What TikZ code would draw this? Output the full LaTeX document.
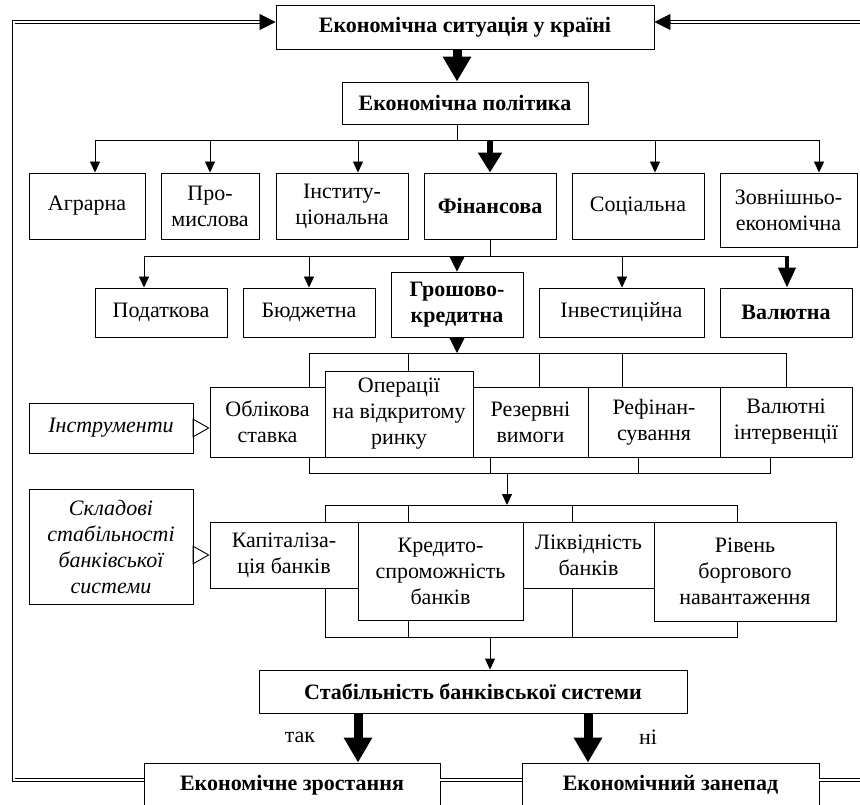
\documentclass[tikz,border=0pt]{standalone}
\usepackage{fontspec}
\setmainfont{Liberation Serif}
\usetikzlibrary{positioning}
\usetikzlibrary{arrows.meta}

\begin{document}
\begin{tikzpicture}[x=1pt,y=-1pt,
  box/.style={draw,line width=0.9pt,fill=white,align=center,inner sep=1pt,font=\fontsize{22}{26}\selectfont},
  bbox/.style={box,font=\fontsize{22}{26}\selectfont\bfseries},
  ibox/.style={box,font=\fontsize{22}{26}\selectfont\itshape},
  ln/.style={line width=0.9pt},
  arr/.style={line width=0.9pt,-{Triangle[width=10pt,length=11pt]}},
  midarr/.style={line width=0.9pt,-{Triangle[width=15pt,length=15pt]}},
  bigarr/.style={line width=9pt,-{Triangle[width=27pt,length=25pt]}},
  dbl/.style={double,double distance=2pt,line width=0.8pt},
  dbltip/.style={line width=0.8pt,-{Triangle[width=16pt,length=16pt]}},
  hol/.style={line width=0.9pt,-{Triangle[open,width=19pt,length=17pt]}}]
 \useasboundingbox (0,0) rectangle (860,805);
 \clip (0,0) rectangle (860,805);

 \node[bbox,minimum width=378pt,minimum height=44pt] (top) at (465,27) {Економічна ситуація у країні};
 \node[bbox,minimum width=246pt,minimum height=42pt] (pol) at (465,103) {Економічна політика};

 \node[box,minimum width=116pt,minimum height=66pt] (agr) at (87,206) {Аграрна};
 \node[box,minimum width=98pt,minimum height=66pt] (prom) at (210,206) {Про-\\мислова};
 \node[box,minimum width=132pt,minimum height=66pt] (inst) at (342,206) {Інститу-\\ціональна};
 \node[bbox,minimum width=132pt,minimum height=66pt] (fin) at (490,206) {Фінансова};
 \node[box,minimum width=132pt,minimum height=66pt] (soc) at (638,206) {Соціальна};
 \node[box,minimum width=137pt,minimum height=74pt] (zovn) at (788.5,210) {Зовнішньо-\\економічна};

 \node[box,minimum width=132pt,minimum height=49pt] (pod) at (161,312.5) {Податкова};
 \node[box,minimum width=132pt,minimum height=49pt] (bud) at (309,312.5) {Бюджетна};
 \node[bbox,minimum width=132pt,minimum height=65pt] (gk) at (457,304.5) {Грошово-\\кредитна};
 \node[box,minimum width=165pt,minimum height=49pt] (inv) at (621.5,312.5) {Інвестиційна};
 \node[bbox,minimum width=132pt,minimum height=49pt] (valy) at (786,312.5) {Валютна};

 \node[ibox,minimum width=164pt,minimum height=50pt] (instr) at (111,428) {Інструменти};
 \node[box,minimum width=115pt,minimum height=70pt] (obl) at (267.5,422) {Облікова\\ставка};
 \node[box,minimum width=148pt,minimum height=86pt] (op) at (399,414) {Операції\\на відкритому\\ринку};
 \node[box,minimum width=115pt,minimum height=70pt] (rez) at (530.5,422) {Резервні\\вимоги};
 \node[box,minimum width=132pt,minimum height=70pt] (ref) at (654,422) {Рефінан-\\сування};
 \node[box,minimum width=132pt,minimum height=70pt] (vi) at (786,422) {Валютні\\інтервенції};

 \node[ibox,minimum width=164pt,minimum height=115pt] (skl) at (111,546.5) {Складові\\стабільності\\банківської\\системи};
 \node[box,minimum width=148pt,minimum height=66pt] (kap) at (284,555) {Капіталіза-\\ція банків};
 \node[box,minimum width=165pt,minimum height=98pt] (kred) at (440.5,571) {Кредито-\\спроможність\\банків};
 \node[box,minimum width=131pt,minimum height=66pt] (likv) at (588.5,555) {Ліквідність\\банків};
 \node[box,minimum width=182pt,minimum height=99pt] (riv) at (745,571.5) {Рівень\\боргового\\навантаження};

 \node[bbox,minimum width=428pt,minimum height=43pt] (st) at (473,691.5) {Стабільність банківської системи};
 \node[bbox,minimum width=296pt,minimum height=44pt] (zr) at (292,785) {Економічне зростання};
 \node[bbox,minimum width=297pt,minimum height=44pt] (zan) at (670.5,785) {Економічний занепад};
 \node[font=\fontsize{22}{26}\selectfont] (tak) at (300,737) {так};
 \node[font=\fontsize{22}{26}\selectfont] (ni) at (648,737) {ні};

 \coordinate (b1) at (457,140);
 \coordinate (b2) at (490,256);
 \coordinate (b3) at (457,353);
 \coordinate (b4) at (507,473);
 \coordinate (b6) at (490,637);

 \draw[bigarr] ([xshift=-8pt]top.south) -- ([xshift=-8pt]top.south |- pol.north);
 \draw[ln] (b1 |- pol.south) -- (b1);
 \draw[ln] (95,140) -- (819,140);
 \foreach \x/\n in {95/agr,210/prom,358/inst,655/soc,819/zovn}
  \draw[arr] (\x,140) -- (\x,140 |- \n.north);
 \draw[line width=6pt,-{Triangle[width=23pt,length=20pt]}] (fin.north |- b1) -- (fin.north);

 \draw[ln] (fin.south) -- (b2);
 \draw[ln] (144,256) -- (787,256);
 \foreach \x/\n in {144/pod,309/bud,622/inv}
  \draw[arr] (\x,256) -- (\x,256 |- \n.north);
 \draw[midarr] (gk.north |- b2) -- (gk.north);
 \draw[line width=4pt,-{Triangle[width=17pt,length=20pt]}] (787,256) -- (787,256 |- valy.north);

 \draw[midarr] (gk.south) -- (b3);
 \draw[ln] (309,353 |- obl.north) |- (786,353) -- (786,353 |- vi.north);
 \foreach \x/\n in {408/op,539/rez,622/ref}
  \draw[ln] (\x,353) -- (\x,353 |- \n.north);
 \draw[ln] (309,473 |- obl.south) |- (770,473) -- (770,473 |- vi.south);
 \foreach \x/\n in {490/rez,638/ref}
  \draw[ln] (\x,473) -- (\x,473 |- \n.south);
 \draw[hol] (instr.east) -- (instr.east -| obl.west);

 \draw[arr] (b4) -- (507,505);
 \draw[ln] (325,505 |- kap.north) |- (737,505) -- (737,505 |- riv.north);
 \foreach \x/\n in {408/kred,572/likv}
  \draw[ln] (\x,505) -- (\x,505 |- \n.north);
 \draw[ln] (325,637 |- kap.south) |- (737,637) -- (737,637 |- riv.south);
 \foreach \x/\n in {408/kred,572/likv}
  \draw[ln] (\x,637) -- (\x,637 |- \n.south);
 \draw[hol] (kap.west -| skl.east) -- (kap.west);
 \draw[arr] (b6) -- (b6 |- st.north);

 \draw[bigarr] (358,713 |- st.south) -- (358,713 |- zr.north);
 \draw[bigarr] (588,713 |- st.south) -- (588,713 |- zan.north);

 \draw[dbl,shorten >=15pt] ([yshift=5pt]zr.west) -- ++(-130,0) |- ([yshift=5pt]top.west);
 \draw[dbltip] ([xshift=-16pt,yshift=5pt]top.west) -- ([yshift=5pt]top.west);
 \draw[dbl] ([yshift=5pt]zr.east) -- ([yshift=5pt]zan.west);
 \draw[dbl,shorten >=15pt] ([yshift=5pt]zan.east) -- ++(60,0) |- ([yshift=5pt]top.east);
 \draw[dbltip] ([xshift=16pt,yshift=5pt]top.east) -- ([yshift=5pt]top.east);
\end{tikzpicture}
\end{document}
